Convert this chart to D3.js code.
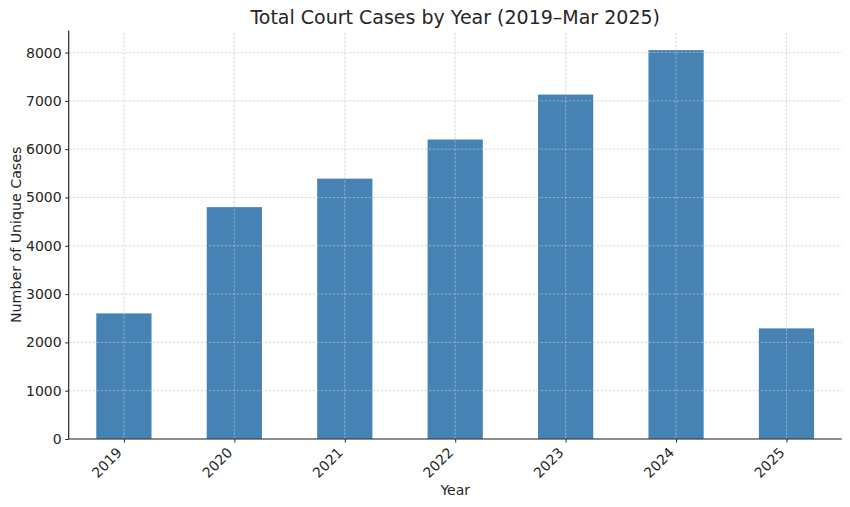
<!DOCTYPE html>
<html lang="en">
    <head>
        <meta charset="utf-8">
        <title>Total Court Cases by Year</title>
        <script src="https://cdn.jsdelivr.net/npm/d3@7"></script>
        <style>
            body { margin: 0; background: #fff; }
            text { font-family: "DejaVu Sans", sans-serif; fill: #262626; }
        </style>
    </head>
    <body>
        <script>
            // size of the page
            var w = 850;
            var h = 507;
            var margin = {top: 30.7, right: 8.3, bottom: 68, left: 68.7};

            // data
            var years = ["2019", "2020", "2021", "2022", "2023", "2024", "2025"];
            var cases = [2600, 4800, 5390, 6200, 7130, 8050, 2290];
            var yTicks = [0, 1000, 2000, 3000, 4000, 5000, 6000, 7000, 8000];

            var svg = d3.select("body")
                .append("svg")
                .attr("width", w)
                .attr("height", h);

            var x0 = margin.left, x1 = w - margin.right;
            var y0 = h - margin.bottom, y1 = margin.top;

            // index scale, like matplotlib puts bars at 0..n-1
            var x = d3.scaleLinear()
                .domain([-0.5, years.length - 0.5])
                .range([x0, x1]);

            var y = d3.scaleLinear()
                .domain([0, d3.max(cases) * 1.05])
                .range([y0, y1]);

            var barW = x(0.25) - x(-0.25);

            // bars
            svg.selectAll("rect.bar")
                .data(cases)
                .enter()
                .append("rect")
                .attr("class", "bar")
                .attr("x", function(d, i) { return x(i) - barW / 2; })
                .attr("y", function(d) { return y(d); })
                .attr("width", barW)
                .attr("height", function(d) { return y(0) - y(d); })
                .attr("fill", "#4682b4");

            // grid on top of the bars
            var grid = svg.append("g").attr("class", "grid");
            grid.selectAll("line.h")
                .data(yTicks)
                .enter()
                .append("line")
                .attr("x1", x0).attr("x2", x1)
                .attr("y1", function(d) { return y(d); })
                .attr("y2", function(d) { return y(d); });
            grid.selectAll("line.v")
                .data(years)
                .enter()
                .append("line")
                .attr("x1", function(d, i) { return x(i); })
                .attr("x2", function(d, i) { return x(i); })
                .attr("y1", y0).attr("y2", y1);
            grid.selectAll("line")
                .attr("stroke", "#c4c4c4")
                .attr("stroke-opacity", 0.8)
                .attr("stroke-width", 0.8)
                .attr("stroke-dasharray", "2.5,1.5");

            // y axis
            var yAxis = d3.axisLeft(y)
                .tickValues(yTicks)
                .tickSize(3.5)
                .tickPadding(3.5)
                .tickFormat(d3.format("d"));
            var gy = svg.append("g")
                .attr("transform", "translate(" + x0 + ",0)")
                .call(yAxis);
            gy.select(".domain").attr("d", "M0," + y0 + "V" + y1);

            // x axis
            var xAxis = d3.axisBottom(x)
                .tickValues(d3.range(years.length))
                .tickSize(3.5)
                .tickFormat(function(i) { return years[i]; });
            var gx = svg.append("g")
                .attr("transform", "translate(0," + y0 + ")")
                .call(xAxis);
            gx.select(".domain").attr("d", "M" + x0 + ",0H" + x1);
            gx.selectAll(".tick text")
                .attr("text-anchor", "end")
                .attr("dy", null)
                .attr("y", null)
                .attr("transform", "translate(-1.5,14.5) rotate(-45)");

            svg.selectAll(".domain")
                .attr("stroke", "#262626")
                .attr("stroke-width", 1.2);
            svg.selectAll(".tick line")
                .attr("stroke", "#262626")
                .attr("stroke-width", 1);
            svg.selectAll(".tick text")
                .attr("font-family", "DejaVu Sans, sans-serif")
                .attr("font-size", 14)
                .attr("fill", "#1a1a1a");

            // title and axis labels
            svg.append("text")
                .attr("x", (x0 + x1) / 2)
                .attr("y", 24)
                .attr("text-anchor", "middle")
                .attr("font-size", 19)
                .text("Total Court Cases by Year (2019\u2013Mar 2025)");

            svg.append("text")
                .attr("x", (x0 + x1) / 2)
                .attr("y", 495)
                .attr("text-anchor", "middle")
                .attr("font-size", 14)
                .text("Year");

            svg.append("text")
                .attr("transform", "translate(20.5," + ((y0 + y1) / 2) + ") rotate(-90)")
                .attr("text-anchor", "middle")
                .attr("font-size", 14.2)
                .text("Number of Unique Cases");
        </script>
    </body>
</html>
